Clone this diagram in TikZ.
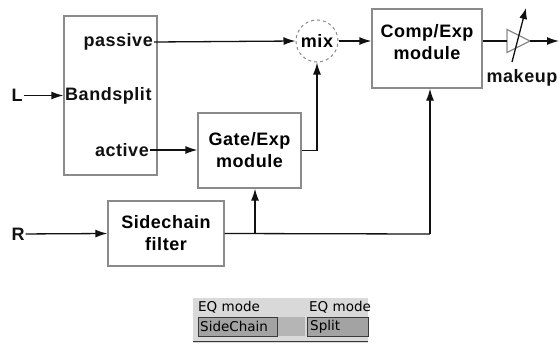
\documentclass[tikz,border=0pt]{standalone}
\usepackage{fontspec}
\setmainfont{Liberation Sans}[LetterSpace=3]
\newfontfamily\uifont{DejaVu Sans}
\usepackage{tikz}
\usetikzlibrary{arrows.meta,positioning}
\definecolor{ink}{HTML}{111111}
\definecolor{frame}{HTML}{8A8A8A}
\definecolor{panel}{HTML}{D9D9D9}
\definecolor{btn}{HTML}{A3A3A3}
\definecolor{btnedge}{HTML}{3A3A3A}
\tikzset{
  blk/.style={draw=frame,line width=1.3pt,align=center,font=\bfseries\fontsize{18}{22}\selectfont,inner sep=0pt},
  lbl/.style={font=\bfseries\fontsize{18}{20}\selectfont,inner sep=1pt,color=ink},
  sig/.style={-{Latex[length=12pt,width=8pt]},line width=1.3pt,color=ink},
  wire/.style={line width=1.3pt,color=ink},
  ui/.style={font=\uifont\fontsize{13.5}{15}\selectfont,inner sep=0pt,anchor=west}}

\begin{document}
\begin{tikzpicture}[x=1pt,y=-1pt]
\useasboundingbox (0,0) rectangle (559,343);
% band splitter
\node[blk,minimum width=93pt,minimum height=159pt] (band) at (110.5,95.5) {};
\node[lbl,anchor=east] (pas) at (154,42) {passive};
\node[lbl,anchor=west] (bs) at (64,95.5) {Bandsplit};
\node[lbl,anchor=east] (act) at (150,150) {active};
\node[lbl] (inL) at (17,95.5) {L};
% processing blocks
\node[blk,minimum width=103pt,minimum height=75pt] (gate) at (249.5,150.5) {Gate/Exp\\module};
\node[blk,draw=frame,dashed,circle,minimum size=42pt,line width=1pt] (mix) at (317,41) {mix};
\node[blk,minimum width=110pt,minimum height=79pt,text depth=14pt] (comp) at (427,48.5) {Comp/Exp\\module};
\node[blk,minimum width=116pt,minimum height=65pt] (sc) at (166,233.5) {Sidechain\\filter};
\node[lbl] (inR) at (18,234) {R};
% makeup gain
\coordinate (ampin) at (507,41);
\coordinate (ampout) at (530,41);
\coordinate (out) at (559,41);
\draw[frame,line width=1.3pt] (507,29.5) -- (ampout) -- (507,52.5) -- cycle;
\draw[-{Latex[length=11pt,width=8pt]},line width=1.3pt,ink] (512,62) -- (526,8);
\node[lbl] (mk) at (522,78) {makeup};
% signal flow
\draw[sig] (inL) -- (band.west |- inL);
\draw[sig] (pas.east) -- (mix.west);
\draw[sig] (act.east) -- (gate.west |- act.east);
\draw[sig] (gate.east) -| (mix.south);
\draw[sig] (mix.east) -- (comp.west |- mix.east);
\draw[wire] (comp.east |- ampin) -- (ampin);
\draw[sig] (ampout) -- (out);
\draw[sig] (inR) -- (sc.west);
\coordinate (tap1) at (255,234);
\coordinate (tap2) at (430,234);
\draw[wire] (sc.east) -- (tap2);
\draw[sig] (tap1) -- (tap1 |- gate.south);
\draw[sig] (tap2) -- (tap2 |- comp.south);
% EQ mode controls
\fill[panel] (193,298) rectangle (368,343);
\node[ui] (eq1) at (198,307) {EQ mode};
\node[ui] (eq2) at (309,307) {EQ mode};
\fill[btn!80] (277,317) rectangle (305,336);
\draw[btnedge,fill=btn,line width=1pt] (198,317) rectangle (277,336);
\draw[btnedge,fill=btn,line width=1pt] (307,317) rectangle (368,336);
\node[ui] (b1) at (200,326.5) {SideChain};
\node[ui] (b2) at (310,326.5) {Split};
\draw[btnedge,line width=1pt] (193,341) -- (368,341);
\end{tikzpicture}
\end{document}
